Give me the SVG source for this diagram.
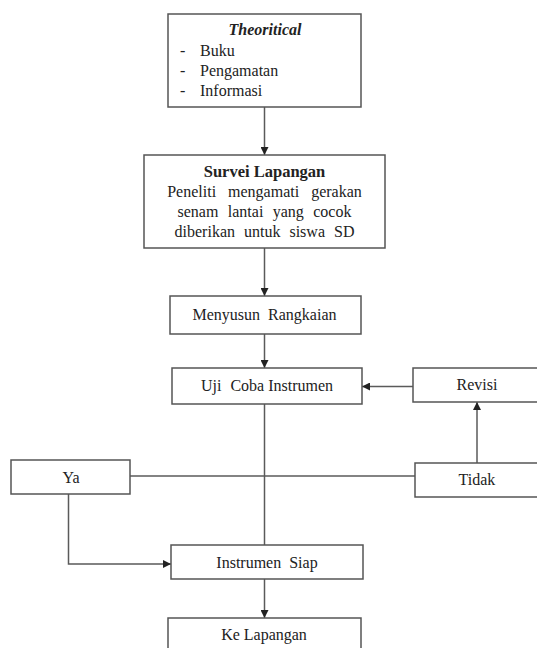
<svg xmlns="http://www.w3.org/2000/svg" width="537" height="648" viewBox="0 0 537 648">
<style>
.box{fill:#fff;stroke:#555;stroke-width:1.5}
.ln{fill:none;stroke:#5a5a5a;stroke-width:1.5}
.t{font-family:'Liberation Serif','DejaVu Serif',serif;font-size:16px;fill:#222}
.c{text-anchor:middle}
.b{font-weight:bold}
.bi{font-weight:bold;font-style:italic}
</style>
<defs>
<marker id="ah" viewBox="0 0 10 10" refX="10" refY="5" markerWidth="8" markerHeight="8" markerUnits="userSpaceOnUse" orient="auto">
<path d="M0,0 L10,5 L0,10 Z" fill="#222"/>
</marker>
</defs>
<rect width="537" height="648" fill="#fff"/>
<g id="connectors">
<line class="ln" x1="264.5" y1="107" x2="264.5" y2="155" marker-end="url(#ah)"/>
<line class="ln" x1="264.5" y1="248" x2="264.5" y2="296" marker-end="url(#ah)"/>
<line class="ln" x1="264.5" y1="334" x2="264.5" y2="368" marker-end="url(#ah)"/>
<line class="ln" x1="264.5" y1="404" x2="264.5" y2="545"/>
<line class="ln" x1="264.5" y1="579" x2="264.5" y2="618" marker-end="url(#ah)"/>
<line class="ln" x1="413" y1="386.5" x2="362" y2="386.5" marker-end="url(#ah)"/>
<line class="ln" x1="477" y1="463" x2="477" y2="402" marker-end="url(#ah)"/>
<line class="ln" x1="130" y1="476" x2="415" y2="476"/>
<polyline class="ln" points="68.5,494 68.5,564 171,564" marker-end="url(#ah)"/>
</g>
<g id="theoritical" font-family="Liberation Serif, serif">
<rect class="box" x="168" y="14" width="193" height="93"/>
<text class="t c bi" x="265" y="35">Theoritical</text>
<text class="t" x="180" y="56">-</text><text class="t" x="200" y="56">Buku</text>
<text class="t" x="180" y="76">-</text><text class="t" x="200" y="76">Pengamatan</text>
<text class="t" x="180" y="96">-</text><text class="t" x="200" y="96">Informasi</text>
</g>
<g id="survei">
<rect class="box" x="144" y="155" width="241" height="93"/>
<text class="t c b" x="264.5" y="177" style="font-size:16.5px">Survei Lapangan</text>
<text class="t c" x="264.5" y="197" word-spacing="8">Peneliti mengamati gerakan</text>
<text class="t c" x="264.5" y="217" word-spacing="5.4">senam lantai yang cocok</text>
<text class="t c" x="264.5" y="237" word-spacing="5">diberikan untuk siswa SD</text>
</g>
<g id="menyusun">
<rect class="box" x="170" y="296" width="191" height="38"/>
<text class="t c" x="264.5" y="320" word-spacing="4">Menyusun Rangkaian</text>
</g>
<g id="uji">
<rect class="box" x="172" y="368" width="190" height="36"/>
<text class="t c" x="267" y="391"><tspan word-spacing="5">Uji </tspan>Coba Instrumen</text>
</g>
<g id="revisi">
<rect class="box" x="413" y="368" width="130" height="34"/>
<text class="t c" x="477" y="390">Revisi</text>
</g>
<g id="ya">
<rect class="box" x="11" y="460" width="119" height="34"/>
<text class="t c" x="71" y="483">Ya</text>
</g>
<g id="tidak">
<rect class="box" x="415" y="463" width="130" height="34"/>
<text class="t c" x="477" y="485">Tidak</text>
</g>
<g id="siap">
<rect class="box" x="171" y="545" width="192" height="34"/>
<text class="t c" x="267" y="568" word-spacing="4">Instrumen Siap</text>
</g>
<g id="kelapangan">
<rect class="box" x="168" y="618" width="193" height="45"/>
<text class="t c" x="264" y="640">Ke Lapangan</text>
</g>
</svg>
